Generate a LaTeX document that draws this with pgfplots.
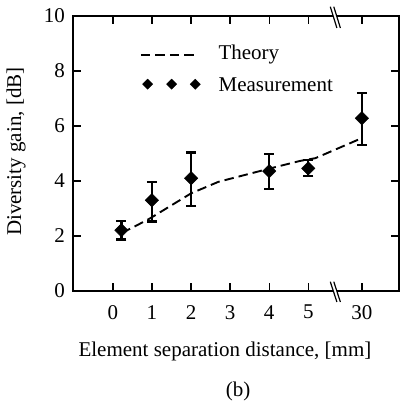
\documentclass[border=0pt]{standalone}
\usepackage{fontspec}
\setmainfont{Liberation Serif}
\usepackage{pgfplots}
\pgfplotsset{compat=1.18}
\pgfplotsset{
  theorylegend/.style={legend image code/.code={\draw[##1] (0bp,5.3bp) -- (55bp,5.3bp); \path (76.7bp,-5bp);}},
  measlegend/.style={legend image code/.code={\draw[##1, mark size=3.6bp] plot[only marks] coordinates {(6.7bp,7bp) (30.7bp,7bp) (54.3bp,7bp)}; \path (76.7bp,0bp);}},
}
\begin{document}
\begin{tikzpicture}[font=\fontsize{21bp}{25bp}\selectfont]
\begin{axis}[
  at={(0,0)}, anchor=south west,
  scale only axis, width=326bp, height=275bp,
  xmin=-1.02, xmax=7.32, ymin=0, ymax=10,
  xtick={0,1,2,3,4,5,6.37}, xticklabels={0,1,2,3,4,5,30},
  ytick={0,2,4,6,8,10},
  tick align=inside, major tick length=8bp,
  axis line style={line width=1.3bp},
  every tick/.style={black, line width=1.3bp},
  /pgf/number format/assume math mode=true,
  tick label style={font=\fontsize{21bp}{25bp}\selectfont},
  xticklabel style={anchor=north, inner sep=0pt, yshift=-14bp},
  yticklabel style={anchor=east, inner sep=0pt, xshift=-8bp},
  xlabel={Element separation distance, [mm]},
  xlabel style={at={(axis description cs:0.466,-0.2389)}, anchor=base, inner sep=0pt},
  ylabel={Diversity gain, [dB]},
  ylabel style={at={(axis description cs:-0.1748,0.5065)}, anchor=center, inner sep=0pt},
  label style={font=\fontsize{21bp}{25bp}\selectfont},
  legend style={draw=none, fill=none, at={(axis description cs:0.2055,0.893)}, anchor=north west,
    inner sep=0pt, outer sep=0pt, row sep=11.5bp, column sep=0pt,
    cells={anchor=base west}, nodes={inner sep=0pt, outer sep=0pt},
    font=\fontsize{21bp}{25bp}\selectfont},
  clip=false,
]
\addplot[black, line width=1.9bp, dash pattern=on 9.5bp off 5bp, theorylegend]
  coordinates {(0.22,2.12) (0.47,2.28) (0.95,2.64) (2.0,3.55) (2.7,3.97) (4.03,4.46) (4.79,4.73) (5.18,4.83) (6.37,5.56)};
\addlegendentry{Theory}
\addplot[black, only marks, mark=square*, mark size=4.75bp, mark options={rotate=45}, measlegend,
  error bars/.cd, y dir=both, y explicit,
  error bar style={line width=2.2bp},
  error mark options={rotate=90, mark size=5bp, line width=2.2bp}]
  coordinates {
    (0.22,2.21) += (0,0.34) -= (0,0.34)
    (1,3.30) += (0,0.67) -= (0,0.77)
    (2,4.10) += (0,0.94) -= (0,1.00)
    (4,4.36) += (0,0.62) -= (0,0.64)
    (5,4.46) += (0,0.30) -= (0,0.29)
    (6.37,6.28) += (0,0.93) -= (0,0.97)
  };
\addlegendentry{Measurement}
% axis break marks
\draw[white, line width=3bp] ([xshift=-1.75bp]axis cs:5.68,10) -- ([xshift=1.75bp]axis cs:5.68,10);
\draw[line width=1.2bp] ([xshift=-4.6bp,yshift=9.3bp]axis cs:5.68,10) -- ([xshift=2bp,yshift=-12bp]axis cs:5.68,10);
\draw[line width=1.2bp] ([xshift=-1.1bp,yshift=9.3bp]axis cs:5.68,10) -- ([xshift=5.5bp,yshift=-12bp]axis cs:5.68,10);
\draw[white, line width=3bp] ([xshift=-1.75bp]axis cs:5.68,0) -- ([xshift=1.75bp]axis cs:5.68,0);
\draw[line width=1.2bp] ([xshift=-4.6bp,yshift=9.3bp]axis cs:5.68,0) -- ([xshift=2bp,yshift=-11bp]axis cs:5.68,0);
\draw[line width=1.2bp] ([xshift=-1.1bp,yshift=9.3bp]axis cs:5.68,0) -- ([xshift=5.5bp,yshift=-11bp]axis cs:5.68,0);
\end{axis}
\node[anchor=base, inner sep=0pt] at (165bp,-105bp) {(b)};
\pgfresetboundingbox
\path (-73bp,-111bp) rectangle (327bp,291bp);
\end{tikzpicture}
\end{document}
